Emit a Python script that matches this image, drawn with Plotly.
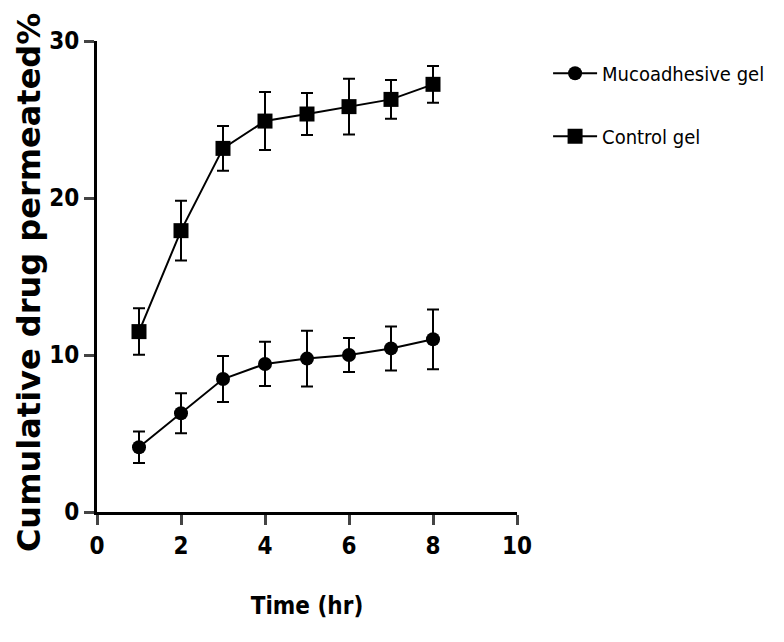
import plotly.graph_objects as go

time_hr = [1, 2, 3, 4, 5, 6, 7, 8]
muco_mean = [4.12, 6.29, 8.47, 9.43, 9.77, 10.0, 10.42, 11.0]
muco_err = [1.0, 1.27, 1.46, 1.41, 1.77, 1.08, 1.4, 1.9]
control_mean = [11.49, 17.92, 23.16, 24.9, 25.35, 25.82, 26.28, 27.24]
control_err = [1.48, 1.9, 1.43, 1.85, 1.33, 1.78, 1.23, 1.17]

x_ticks = [0, 2, 4, 6, 8, 10]
y_ticks = [0, 10, 20, 30]

narrow = "DejaVu Sans Condensed, Liberation Sans, sans-serif"

fig = go.Figure()
fig.add_trace(go.Scatter(
    x=time_hr, y=muco_mean, name="Mucoadhesive gel", mode="lines+markers",
    line=dict(color="black", width=2),
    marker=dict(symbol="circle", size=14, color="black"),
    error_y=dict(type="data", array=muco_err, color="black", thickness=2, width=6),
    legendgroup="a",
))
fig.add_trace(go.Scatter(
    x=time_hr, y=control_mean, name="Control gel", mode="lines+markers",
    line=dict(color="black", width=2),
    marker=dict(symbol="square", size=15, color="black"),
    error_y=dict(type="data", array=control_err, color="black", thickness=2, width=6),
    legendgroup="b",
))

fig.update_layout(
    width=768, height=626,
    margin=dict(l=89, r=259, t=33, b=122, autoexpand=False),
    plot_bgcolor="white", paper_bgcolor="white",
    showlegend=True,
    legend=dict(x=1.074, y=0.973, xanchor="left", yanchor="top",
                font=dict(family=narrow, size=20, color="black"),
                itemwidth=44, tracegroupgap=34, bgcolor="rgba(0,0,0,0)"),
    xaxis=dict(range=[0, 10], tickvals=x_ticks, ticks="outside", ticklen=10, tickwidth=2.5,
               showline=True, linewidth=3, linecolor="black", showgrid=False, zeroline=False,
               tickfont=dict(family=narrow, size=24, color="black", weight="bold"),
               title=dict(text="<b>Time (hr)</b>", font=dict(family=narrow, size=24, color="black"),
                          standoff=39)),
    yaxis=dict(range=[0, 30], tickvals=y_ticks, ticks="outside", ticklen=10, tickwidth=2.5,
               showline=True, linewidth=3, linecolor="black", showgrid=False, zeroline=False,
               tickfont=dict(family=narrow, size=24, color="black", weight="bold")),
    annotations=[dict(text="<b>Cumulative drug permeated%</b>", textangle=-90,
                      xref="paper", yref="paper", x=-0.212, y=0.488, xanchor="left", yanchor="middle",
                      showarrow=False,
                      font=dict(family="DejaVu Sans, sans-serif", size=32, color="black"))],
)

fig.write_html("out.html")
